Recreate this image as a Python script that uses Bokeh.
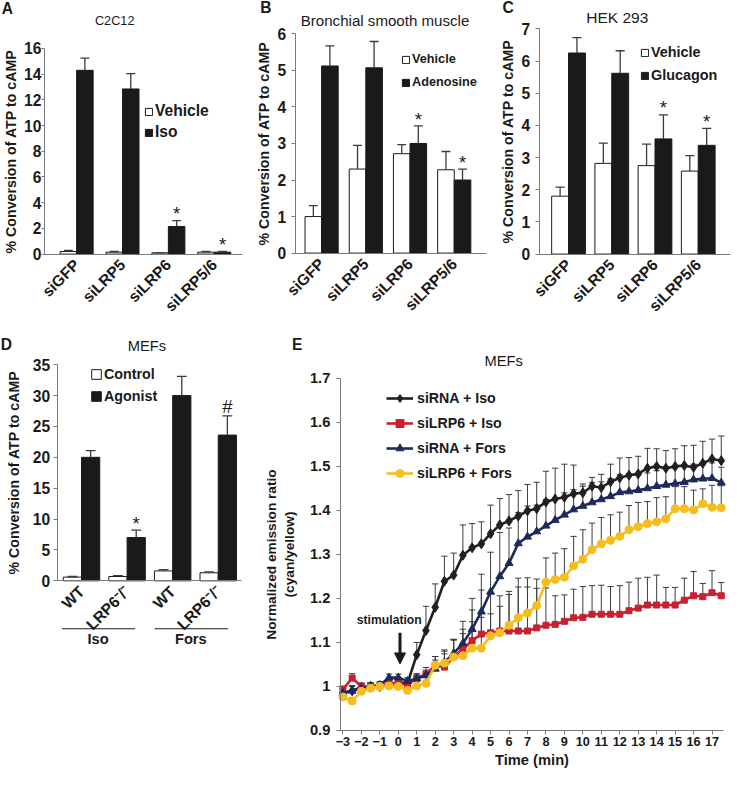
import math
from bokeh.plotting import figure
from bokeh.layouts import row, column
from bokeh.models import FixedTicker, Legend, LegendItem, Label, Arrow, NormalHead, Range1d
from bokeh.embed import file_html
from bokeh.resources import INLINE
from bokeh.core.properties import value

# ---------------- data ----------------
si_groups = ["siGFP", "siLRP5", "siLRP6", "siLRP5/6"]

a_vehicle = [0.2, 0.15, 0.1, 0.15]
a_vehicle_err = [0.08, 0.05, 0.02, 0.05]
a_iso = [14.3, 12.85, 2.15, 0.15]
a_iso_err = [0.95, 1.2, 0.45, 0.05]
a_marks = ["", "", "*", "*"]
a_yticks = [0, 2, 4, 6, 8, 10, 12, 14, 16]

b_vehicle = [1.0, 2.3, 2.72, 2.28]
b_vehicle_err = [0.3, 0.65, 0.25, 0.5]
b_adenosine = [5.12, 5.07, 3.0, 2.0]
b_adenosine_err = [0.55, 0.72, 0.48, 0.3]
b_marks = ["", "", "*", "*"]
b_yticks = [0, 1, 2, 3, 4, 5, 6]

c_vehicle = [1.8, 2.82, 2.75, 2.58]
c_vehicle_err = [0.28, 0.63, 0.67, 0.48]
c_glucagon = [6.25, 5.62, 3.58, 3.38]
c_glucagon_err = [0.48, 0.7, 0.75, 0.53]
c_marks = ["", "", "*", "*"]
c_yticks = [0, 1, 2, 3, 4, 5, 6, 7]

d_groups = ["WT", "LRP6\u207b/\u207b", "WT", "LRP6\u207b/\u207b"]
d_treatments = ["Iso", "Fors"]
d_control = [0.6, 0.7, 1.6, 1.3]
d_control_err = [0.1, 0.15, 0.2, 0.15]
d_agonist = [20.0, 7.0, 30.0, 23.6]
d_agonist_err = [1.1, 1.2, 3.1, 3.1]
d_marks = ["", "*", "", "#"]
d_yticks = [0, 5, 10, 15, 20, 25, 30, 35]

e_time = [-3, -2.5, -2, -1.5, -1, -0.5, 0, 0.5, 1, 1.5, 2, 2.5, 3, 3.5, 4, 4.5, 5, 5.5,
          6, 6.5, 7, 7.5, 8, 8.5, 9, 9.5, 10, 10.5, 11, 11.5, 12, 12.5, 13, 13.5, 14,
          14.5, 15, 15.5, 16, 16.5, 17, 17.5]
e_sirna_iso = [0.985, 0.99, 0.998, 1.0, 1.0, 1.005, 1.01, 1.007, 1.072, 1.127, 1.18, 1.239,
               1.253, 1.298, 1.315, 1.324, 1.347, 1.367, 1.376, 1.387, 1.399, 1.404, 1.419,
               1.426, 1.43, 1.438, 1.44, 1.455, 1.452, 1.465, 1.474, 1.48, 1.483, 1.496,
               1.5, 1.496, 1.5, 1.502, 1.498, 1.507, 1.517, 1.513]
e_sirna_iso_err = [0.01, 0.012, 0.008, 0.008, 0.008, 0.01, 0.01, 0.01, 0.028, 0.055, 0.053,
                   0.057, 0.05, 0.069, 0.055, 0.05, 0.065, 0.06, 0.06, 0.058, 0.06, 0.06,
                   0.07, 0.07, 0.075, 0.065, 0.02, 0.02, 0.03, 0.04, 0.045, 0.04, 0.04,
                   0.045, 0.04, 0.04, 0.04, 0.045, 0.05, 0.05, 0.045, 0.056]
e_silrp6_iso = [0.993, 1.019, 1.0, 1.0, 1.0, 1.007, 1.007, 1.004, 1.019, 1.028, 1.048, 1.044,
                1.067, 1.085, 1.104, 1.119, 1.122, 1.126, 1.126, 1.126, 1.126, 1.133, 1.139,
                1.141, 1.148, 1.156, 1.157, 1.164, 1.164, 1.164, 1.164, 1.172, 1.178, 1.185,
                1.185, 1.185, 1.185, 1.196, 1.206, 1.204, 1.213, 1.206]
e_silrp6_iso_err = [0.008, 0.01, 0.008, 0.008, 0.008, 0.008, 0.008, 0.008, 0.01, 0.015, 0.02,
                    0.03, 0.04, 0.045, 0.07, 0.1, 0.09, 0.08, 0.09, 0.1, 0.1, 0.09, 0.085,
                    0.065, 0.06, 0.065, 0.07, 0.065, 0.066, 0.063, 0.065, 0.065, 0.068,
                    0.063, 0.068, 0.04, 0.04, 0.05, 0.055, 0.03, 0.05, 0.03]
e_sirna_fors = [0.985, 0.99, 0.995, 1.0, 1.003, 1.02, 1.02, 1.012, 1.018, 1.025, 1.04, 1.055,
                1.075, 1.098, 1.13, 1.17, 1.215, 1.25, 1.28, 1.325, 1.34, 1.352, 1.365,
                1.378, 1.39, 1.402, 1.41, 1.418, 1.425, 1.432, 1.441, 1.443, 1.446, 1.45,
                1.455, 1.458, 1.461, 1.464, 1.47, 1.472, 1.473, 1.463]
e_sirna_fors_err = [0.008, 0.01, 0.008, 0.008, 0.008, 0.008, 0.008, 0.008, 0.01, 0.012, 0.02,
                    0.025, 0.03, 0.05, 0.07, 0.085, 0.09, 0.1, 0.08, 0.07, 0.07, 0.06, 0.06,
                    0.05, 0.05, 0.045, 0.045, 0.045, 0.04, 0.04, 0.04, 0.04, 0.035, 0.035,
                    0.035, 0.035, 0.035, 0.035, 0.035, 0.035, 0.035, 0.035]
e_silrp6_fors = [0.976, 0.967, 0.989, 0.996, 1.0, 1.001, 1.0, 0.991, 1.001, 1.007, 1.048,
                 1.053, 1.067, 1.07, 1.087, 1.087, 1.115, 1.122, 1.139, 1.156, 1.167, 1.184,
                 1.237, 1.243, 1.248, 1.274, 1.289, 1.311, 1.324, 1.332, 1.341, 1.356, 1.363,
                 1.37, 1.374, 1.381, 1.404, 1.404, 1.401, 1.415, 1.407, 1.406]
e_silrp6_fors_err = [0.008, 0.008, 0.008, 0.008, 0.008, 0.008, 0.008, 0.008, 0.01, 0.015,
                     0.02, 0.03, 0.04, 0.05, 0.06, 0.07, 0.05, 0.06, 0.07, 0.09, 0.08, 0.06,
                     0.055, 0.06, 0.065, 0.067, 0.067, 0.06, 0.06, 0.058, 0.055, 0.055, 0.055,
                     0.05, 0.055, 0.05, 0.05, 0.05, 0.045, 0.034, 0.05, 0.05]
e_names = ["siRNA + Iso", "siLRP6 + Iso", "siRNA + Fors", "siLRP6 + Fors"]
e_yticks = [0.9, 1.0, 1.1, 1.2, 1.3, 1.4, 1.5, 1.6, 1.7]
e_ytick_labels = ["0.9", "1", "1.1", "1.2", "1.3", "1.4", "1.5", "1.6", "1.7"]
e_xticks = list(range(-3, 18))

# ---------------- styling helpers ----------------
S = 0.978
FONT = "Liberation Sans"
INK = "#1a1a1a"
AXC = "#7a7a7a"
ERRC = "#3c3c3c"


def px(v):
    return int(round(v * S))


def fs(v):
    return f"{v * S:.1f}px"


def make_fig(fw, fh, x0px, xsp, y0px, yunit, ybase):
    """Figure whose frame covers the whole canvas; local reference pixels -> data."""
    def to_data(x, y):
        return ((x - x0px) / xsp, ybase + (y0px - y) / yunit)
    xr = (to_data(0, 0)[0], to_data(fw, 0)[0])
    yr = (to_data(0, fh)[1], to_data(0, 0)[1])
    p = figure(width=px(fw), height=px(fh), x_range=Range1d(*xr), y_range=Range1d(*yr),
               output_backend="svg", toolbar_location=None,
               min_border_left=0, min_border_right=0, min_border_top=0, min_border_bottom=0)
    p.xgrid.grid_line_color = None
    p.ygrid.grid_line_color = None
    p.outline_line_color = None
    p.background_fill_color = "white"
    p.border_fill_color = "white"
    return p, to_data


def style_axis(ax, tick_size, tick_out=4):
    ax.axis_line_color = AXC
    ax.major_tick_line_color = AXC
    ax.major_tick_out = px(tick_out)
    ax.major_tick_in = 0
    ax.minor_tick_line_color = None
    ax.major_label_text_font = FONT
    ax.major_label_text_font_style = "bold"
    ax.major_label_text_font_size = fs(tick_size)
    ax.major_label_text_color = INK
    ax.axis_label_text_font = FONT
    ax.axis_label_text_font_style = "bold"
    ax.axis_label_text_color = INK


def add_label(p, xy, text, size, bold=False, align="center"):
    p.add_layout(Label(x=xy[0], y=xy[1], text=text, text_font=FONT,
                       text_font_size=fs(size), text_font_style="bold" if bold else "normal",
                       text_align=align, text_baseline="middle", text_color=INK))


def bar_panel(fw, fh, axis_px, right_px, x0px, xsp, y0px, yunit, yticks, cats,
              s1, e1, s2, e2, names, bw, marks, leg_xy, leg_rowh, leg_sp, leg_glyph,
              leg_font, title, title_xy, title_size, letter, letter_xy,
              ytick_out, ylab_standoff, yaxlab_standoff):
    p, to_data = make_fig(fw, fh, x0px, xsp, y0px, yunit, 0.0)
    xs = list(range(len(cats)))
    x1 = [x - bw / 2 for x in xs]
    x2 = [x + bw / 2 for x in xs]
    r1 = p.vbar(x=x1, top=s1, bottom=0, width=bw, fill_color="white", line_color=INK,
                line_width=1)
    r2 = p.vbar(x=x2, top=s2, bottom=0, width=bw, fill_color=INK, line_color=INK,
                line_width=1)
    cw = bw * 0.27
    for xx, vv, ee in ((x1, s1, e1), (x2, s2, e2)):
        tops = [v + e for v, e in zip(vv, ee)]
        p.segment(x0=xx, y0=vv, x1=xx, y1=tops, line_color=ERRC, line_width=1.3)
        p.segment(x0=[x - cw for x in xx], y0=tops, x1=[x + cw for x in xx], y1=tops,
                  line_color=ERRC, line_width=1.3)
    mx, my, mt = [], [], []
    for i, m in enumerate(marks):
        if m:
            mx.append(x2[i])
            my.append(s2[i] + e2[i] + (7.0 if m == "*" else 10.0) / yunit)
            mt.append(m)
    p.text(x=mx, y=my, text=mt, text_font=value(FONT), text_font_size=fs(19),
           text_align="center", text_baseline="middle", text_color=INK)

    axis_x = to_data(axis_px, 0)[0]
    right_x = to_data(right_px, 0)[0]

    ya = p.yaxis[0]
    style_axis(ya, 16, tick_out=ytick_out)
    ya.ticker = FixedTicker(ticks=yticks)
    ya.fixed_location = axis_x
    ya.bounds = (yticks[0], yticks[-1])
    ya.axis_label = "% Conversion of ATP to cAMP"
    ya.axis_label_text_font_size = fs(14.5)
    ya.major_label_standoff = px(ylab_standoff)
    ya.axis_label_standoff = px(yaxlab_standoff)

    xa = p.xaxis[0]
    style_axis(xa, 16, tick_out=0)
    xa.major_tick_line_color = None
    xa.ticker = FixedTicker(ticks=xs)
    xa.fixed_location = 0
    xa.bounds = (axis_x, right_x)
    xa.major_label_overrides = {i: c for i, c in enumerate(cats)}
    xa.major_label_orientation = math.pi / 4
    xa.major_label_standoff = px(8)

    leg = Legend(items=[LegendItem(label=names[0], renderers=[r1]),
                        LegendItem(label=names[1], renderers=[r2])],
                 location=(px(leg_xy[0]), px(leg_xy[1])),
                 glyph_width=px(leg_glyph), glyph_height=px(leg_glyph),
                 label_height=px(leg_rowh), spacing=px(leg_sp), label_standoff=px(2),
                 padding=0, margin=0, border_line_color=None, background_fill_alpha=0,
                 label_text_font=FONT, label_text_font_style="bold",
                 label_text_font_size=fs(leg_font), label_text_color=INK)
    p.add_layout(leg)

    add_label(p, to_data(*title_xy), title, title_size)
    add_label(p, to_data(*letter_xy), letter, 16, bold=True)
    return p, to_data


# ---------------- panel A ----------------
# legend location: (glyph left px, fig height - legend bottom px)
pA, _ = bar_panel(250, 335, 45, 248, 78, 47, 259, 13.125, a_yticks, si_groups,
                  a_vehicle, a_vehicle_err, a_iso, a_iso_err, ["Vehicle", "Iso"], 0.36,
                  a_marks, (147, 335 - 145), 20, 1, 9, 16, "C2C12", (117, 21), 13,
                  "A", (7, 8), 3, 0, 2)

# ---------------- panel B ----------------
pB, _ = bar_panel(250, 335, 52, 248, 79, 45.3, 258, 37.33, b_yticks, si_groups,
                  b_vehicle, b_vehicle_err, b_adenosine, b_adenosine_err,
                  ["Vehicle", "Adenosine"], 0.375, b_marks, (161, 335 - 94), 20, 3, 9, 13,
                  "Bronchial smooth muscle", (144, 20), 15.4, "B", (22, 7), 4, 5, 3)

# ---------------- panel C ----------------
pC, _ = bar_panel(250, 335, 52, 248, 82, 44.3, 259, 32.86, c_yticks, si_groups,
                  c_vehicle, c_vehicle_err, c_glucagon, c_glucagon_err,
                  ["Vehicle", "Glucagon"], 0.39, c_marks, (155, 335 - 87), 20, 3, 9, 14.7,
                  "HEK 293", (132, 17), 15.8, "C", (20, 7), 4, 5, 3)

# ---------------- panel D ----------------
pD, toD = bar_panel(250, 454, 58, 247, 83, 46.7, 258, 6.314, d_yticks, d_groups,
                    d_control, d_control_err, d_agonist, d_agonist_err,
                    ["Control", "Agonist"], 0.4, d_marks, (92, 454 - 80), 20, 2, 12, 14.6,
                    "MEFs", (150, 18), 15, "D", (6, 16), 4, 3, 8)
gx0, gx1, gy = [], [], []
for (xa_, xb_), name, xc_ in zip(((63, 138), (158, 233)), d_treatments, (100, 195)):
    sx0, sy = toD(xa_, 307)
    sx1, _ = toD(xb_, 307)
    gx0.append(sx0)
    gx1.append(sx1)
    gy.append(sy)
    add_label(pD, toD(xc_, 317), name, 15, bold=True)
pD.segment(x0=gx0, y0=gy, x1=gx1, y1=gy, line_color=INK, line_width=1.2)

# ---------------- panel E ----------------
# time t maps to local px 98 + (t + 3.14) * 18.87 ; value 0.9 at local px 411, 450 px/unit
pE, toE = make_fig(500, 454, 98 + 3.14 * 18.87, 18.87, 411, 450, 0.9)
e_series = [
    (e_sirna_iso, e_sirna_iso_err, "#231f20", "diamond", 10),
    (e_silrp6_iso, e_silrp6_iso_err, "#c8202f", "square", 6.5),
    (e_sirna_fors, e_sirna_fors_err, "#1e2a5c", "triangle", 8),
    (e_silrp6_fors, e_silrp6_fors_err, "#f7bd1e", "circle", 8.5),
]
cap = 0.17
for vals, errs, color, marker, size in e_series:
    tops = [v + e for v, e in zip(vals, errs)]
    pE.segment(x0=e_time, y0=vals, x1=e_time, y1=tops, line_color=ERRC, line_width=1)
    pE.segment(x0=[x - cap for x in e_time], y0=tops, x1=[x + cap for x in e_time], y1=tops,
               line_color=ERRC, line_width=1)
items = []
for (vals, errs, color, marker, size), name in zip(e_series, e_names):
    lr = pE.line(x=e_time, y=vals, line_color=color, line_width=2.6)
    sr = pE.scatter(x=e_time, y=vals, marker=marker, size=px(size), fill_color=color,
                    line_color=color)
    items.append(LegendItem(label=name, renderers=[lr, sr]))

e_axis_x = toE(98, 0)[0]
e_right_x = toE(490, 0)[0]
ya = pE.yaxis[0]
style_axis(ya, 15)
ya.ticker = FixedTicker(ticks=e_yticks)
ya.fixed_location = e_axis_x
ya.bounds = (e_yticks[0], e_yticks[-1])
ya.major_label_overrides = dict(zip(e_yticks, e_ytick_labels))
ya.axis_label = "Normalized emission ratio\n(cyan/yellow)"
ya.axis_label_text_font_size = fs(14)
ya.major_label_standoff = px(6)
ya.axis_label_standoff = px(10)

xa = pE.xaxis[0]
style_axis(xa, 13)
xa.ticker = FixedTicker(ticks=e_xticks)
xa.fixed_location = e_yticks[0]
xa.bounds = (e_axis_x, e_right_x)
xa.axis_label = "Time (min)"
xa.axis_label_text_font_size = fs(15)
xa.major_label_standoff = px(3)
xa.axis_label_standoff = px(2)

legE = Legend(items=items, location=(px(145), px(454 - 158)), glyph_width=px(28),
              glyph_height=px(20), label_height=px(20), spacing=px(5),
              label_standoff=px(4), padding=0, margin=0, border_line_color=None,
              background_fill_alpha=0, label_text_font=FONT, label_text_font_style="bold",
              label_text_font_size=fs(14.5), label_text_color=INK)
pE.add_layout(legE)

add_label(pE, toE(148, 298), "stimulation", 12.5, bold=True)
ax0, ay0 = toE(159, 311)
ax1, ay1 = toE(159, 343)
pE.add_layout(Arrow(x_start=ax0, y_start=ay0, x_end=ax1, y_end=ay1,
                    end=NormalHead(size=px(11), fill_color=INK, line_color=INK),
                    line_color=INK, line_width=3))
add_label(pE, toE(265, 33), "MEFs", 15)
add_label(pE, toE(54, 16), "E", 16, bold=True)

layout = column(row(pA, pB, pC), row(pD, pE))
open("out.html", "w").write(file_html(layout, INLINE))
